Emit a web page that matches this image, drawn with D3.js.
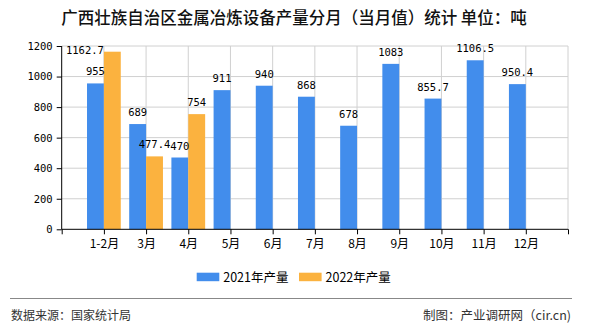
<!DOCTYPE html>
<html><head><meta charset="utf-8">
<script src="https://cdn.jsdelivr.net/npm/d3@7"></script>
<style>body{margin:0;background:#fff;}svg{display:block;}</style>
</head><body><div id="chart"></div>
<script>
const categories = ["1-2月","3月","4月","5月","6月","7月","8月","9月","10月","11月","12月"];
const series2021 = [955,689,470,911,940,868,678,1083,855.7,1106.5,950.4];
const series2022 = [1162.7,477.4,754,null,null,null,null,null,null,null,null];
const seriesNames = ["2021年产量","2022年产量"];
const colors = ["#428DEC","#FBB23F"];
const yTicks = [0,200,400,600,800,1000,1200];
const title = "广西壮族自治区金属冶炼设备产量分月（当月值）统计 单位：吨";
const sourceText = "数据来源：国家统计局";
const creditText = "制图：产业调研网（cir.cn)";

(function () {
const W = 590, H = 330;
const pL = 61.7, pR = 568, pT = 46, pB = 229.3;
const cjk = "'Noto Sans CJK SC','Noto Sans',sans-serif";
const mono = "'DejaVu Sans Mono','Liberation Mono',monospace";

const svg = d3.select("#chart").append("svg").attr("width", W).attr("height", H);

const x = d3.scaleLinear().domain([0, categories.length + 1]).range([pL, pR]);
const y = d3.scaleLinear().domain([0, 1200]).range([pB, pT]);
const step = x(1) - x(0);
const bw = step * 0.4;

svg.append("text").attr("x", 294).attr("y", 24).attr("text-anchor", "middle")
  .style("font-family", cjk).style("font-size", "16.5px").style("font-weight", "500").style("fill", "#111")
  .text(title);

svg.append("g").selectAll("line").data(yTicks.filter(d => d > 0)).join("line")
  .attr("x1", pL).attr("x2", pR).attr("y1", d => y(d)).attr("y2", d => y(d))
  .attr("stroke", "#d0d0d0").attr("stroke-width", 1);
const vpos = categories.map((c, i) => i + 1).concat([categories.length + 1]);
svg.append("g").selectAll("line").data(vpos).join("line")
  .attr("x1", d => x(d)).attr("x2", d => x(d)).attr("y1", pT).attr("y2", pB)
  .attr("stroke", "#d0d0d0").attr("stroke-width", 1);

const g = svg.append("g");
g.selectAll("rect.b21").data(series2021).join("rect").attr("class", "b21")
  .attr("x", (d, i) => x(i + 1) - bw).attr("width", bw)
  .attr("y", d => y(d)).attr("height", d => y(0) - y(d)).attr("fill", colors[0]);
g.selectAll("rect.b22").data(series2022.map((v, i) => ({v, i})).filter(d => d.v != null)).join("rect").attr("class", "b22")
  .attr("x", d => x(d.i + 1)).attr("width", bw)
  .attr("y", d => y(d.v)).attr("height", d => y(0) - y(d.v)).attr("fill", colors[1]);

function label(v, cx, barLeft) {
  const ty = y(v);
  const t = svg.append("text").style("font-family", mono).style("font-size", "10.5px").style("fill", "#000");
  if (ty - 16 < 40) {
    t.attr("x", barLeft).attr("y", ty + 2.5).attr("text-anchor", "end");
  } else {
    t.attr("x", cx).attr("y", ty - 8).attr("text-anchor", "middle");
  }
  t.text(v);
}
series2021.forEach((v, i) => label(v, x(i + 1) - bw / 2, x(i + 1) - bw));
series2022.forEach((v, i) => { if (v != null) label(v, x(i + 1) + bw / 2, x(i + 1)); });

const yAxis = svg.append("g").attr("transform", `translate(${pL},0)`)
  .call(d3.axisLeft(y).tickValues(yTicks).tickSize(5).tickPadding(4).tickFormat(d3.format("d")));
yAxis.select(".domain").attr("stroke", "#000").attr("d", `M0,${pT}V${pB}`);
yAxis.selectAll(".tick line").attr("stroke", "#000");
yAxis.selectAll("text").style("font-family", mono).style("font-size", "10.5px").attr("fill", "#000");

const xAxis = svg.append("g").attr("transform", `translate(0,${pB})`)
  .call(d3.axisBottom(x).tickValues(d3.range(0, categories.length + 2)).tickSize(5).tickPadding(5)
    .tickFormat(d => (d >= 1 && d <= categories.length) ? categories[d - 1] : ""));
xAxis.select(".domain").attr("stroke", "#000").attr("d", `M${pL},0H${pR}`);
xAxis.selectAll(".tick line").attr("stroke", "#000");
xAxis.selectAll("text").style("font-family", cjk).style("font-size", "12px").attr("fill", "#000");

const lg = svg.append("g");
const lx = [196.7, 299];
seriesNames.forEach((n, i) => {
  lg.append("rect").attr("x", lx[i]).attr("y", 272.7).attr("width", 22.6).attr("height", 8.5).attr("fill", colors[i]);
  lg.append("text").attr("x", lx[i] + 26.5).attr("y", 281.5).style("font-family", cjk).style("font-size", "12.5px")
    .attr("fill", "#000").text(n);
});

svg.append("line").attr("x1", 10).attr("x2", 572).attr("y1", 298.5).attr("y2", 298.5).attr("stroke", "#888").attr("stroke-width", 1.2);
svg.append("text").attr("x", 11).attr("y", 320).style("font-family", cjk).style("font-size", "12px").attr("fill", "#333").text(sourceText);
svg.append("text").attr("x", 571).attr("y", 320).attr("text-anchor", "end").style("font-family", cjk).style("font-size", "12.5px").attr("fill", "#333").text(creditText);
})();
</script></body></html>
